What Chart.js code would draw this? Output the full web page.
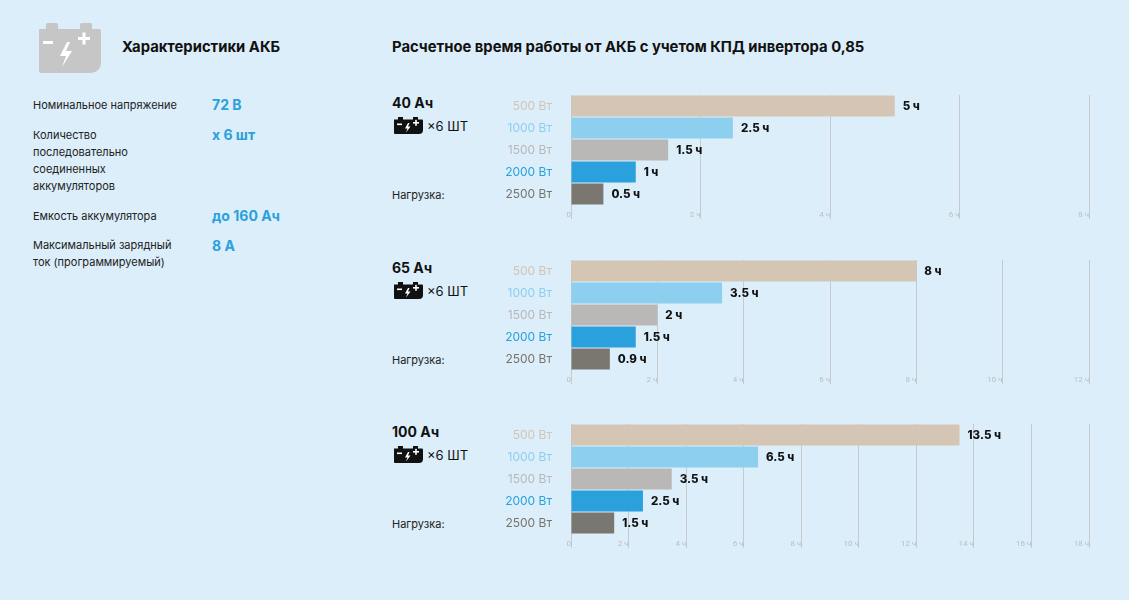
<!DOCTYPE html>
<html>
<head>
<meta charset="utf-8">
<script src="https://cdn.jsdelivr.net/npm/chart.js@4.4.0/dist/chart.umd.min.js"></script>
<style>
  html, body { margin:0; padding:0; }
  body { width:1129px; height:600px; background:#dbeefa; font-family: Inter, "Noto Sans", sans-serif; position:relative; overflow:hidden; color:#1a1a1a; }
  .abs { position:absolute; white-space:nowrap; }
  .h1 { font-weight:700; font-size:14.8px; color:#111; }
  .lbl { font-size:11px; color:#222; line-height:17px; }
  .val { font-weight:700; font-size:14px; color:#2aa0dc; }
  .cap { font-weight:700; font-size:14px; color:#111; }
  .cnt { font-size:13px; color:#111; }
  .chartbox { position:absolute; left:480px; width:620px; height:140px; }
</style>
</head>
<body>
<svg class="abs" style="left:37px;top:23px" width="66" height="50" viewBox="0 0 66 50">
  <rect x="9" y="0" width="12" height="8" rx="1.5" fill="#c6c6c6"/>
  <rect x="43" y="0" width="12" height="8" rx="1.5" fill="#c6c6c6"/>
  <path d="M2 6 H62 a2 2 0 0 1 2 2 V40 a10 10 0 0 1 -10 10 H4 a2 2 0 0 1 -2 -2 Z" fill="#c6c6c6"/>
  <rect x="6" y="18" width="10" height="3" fill="#fff"/>
  <rect x="41" y="14" width="12" height="3" fill="#fff"/>
  <rect x="45.5" y="9.5" width="3" height="12" fill="#fff"/>
  <path d="M30 19 L23 33 L29 33 L25 44 L35 28 L29 28 L33 19 Z" fill="#fff"/>
</svg>
<div class="abs h1" style="left:122px;top:38px">Характеристики АКБ</div>

<div class="abs lbl" style="left:33px;top:97px">Номинальное напряжение</div>
<div class="abs val" style="left:212px;top:96px">72 В</div>
<div class="abs lbl" style="left:33px;top:127px">Количество<br>последовательно<br>соединенных<br>аккумуляторов</div>
<div class="abs val" style="left:212px;top:126px">х 6 шт</div>
<div class="abs lbl" style="left:33px;top:208px">Емкость аккумулятора</div>
<div class="abs val" style="left:212px;top:207px">до 160 Ач</div>
<div class="abs lbl" style="left:33px;top:237px">Максимальный зарядный<br>ток (программируемый)</div>
<div class="abs val" style="left:212px;top:237px">8 А</div>

<div class="abs h1" style="left:392px;top:38px">Расчетное время работы от АКБ с учетом КПД инвертора 0,85</div>

<div id="groups"></div>

<div class="chartbox" style="top:85px"><canvas id="c1"></canvas></div>
<div class="chartbox" style="top:250px"><canvas id="c2"></canvas></div>
<div class="chartbox" style="top:414px"><canvas id="c3"></canvas></div>

<script>
// ---- data ----
const loads = ['500 Вт', '1000 Вт', '1500 Вт', '2000 Вт', '2500 Вт'];
const capacities = ['40 Ач', '65 Ач', '100 Ач'];
const hours40 = [5, 2.5, 1.5, 1, 0.5];
const hours65 = [8, 3.5, 2, 1.5, 0.9];
const hours100 = [13.5, 6.5, 3.5, 2.5, 1.5];
const ticks40 = ['0', '2 ч', '4 ч', '6 ч', '8 ч'];
const ticks65 = ['0', '2 ч', '4 ч', '6 ч', '8 ч', '10 ч', '12 ч'];
const ticks100 = ['0', '2 ч', '4 ч', '6 ч', '8 ч', '10 ч', '12 ч', '14 ч', '16 ч', '18 ч'];
const batteryCount = '×6 ШТ';
const loadCaption = 'Нагрузка:';

// ---- styles ----
const barColors = ['#d5c5b5', '#8dcfee', '#b9b8b6', '#2aa0dc', '#7a7670'];
const labelColors = ['#d3c4b5', '#8dcfee', '#b8b8b8', '#2aa0dc', '#77736e'];
const gridColor = '#c6cacd';

const tops = [85, 250, 414];
const groups = document.getElementById('groups');
const smallIcon = '<svg width="29" height="17" viewBox="0 0 29 17"><rect x="4" y="0" width="5" height="3" fill="#111"/><rect x="19" y="0" width="5" height="3" fill="#111"/><path d="M0 2.5 H28 a1 1 0 0 1 1 1 V13 a4 4 0 0 1 -4 4 H1 a1 1 0 0 1 -1 -1 Z" fill="#111"/><rect x="3" y="6.5" width="5" height="1.6" fill="#fff"/><rect x="19" y="5" width="6" height="1.6" fill="#fff"/><rect x="21.2" y="2.8" width="1.6" height="6" fill="#fff"/><path d="M14 6 L11 11.5 L13.5 11.5 L12 15.5 L16.5 9.5 L14 9.5 L15.5 6 Z" fill="#fff"/></svg>';
capacities.forEach((c, i) => {
  const t = tops[i];
  groups.insertAdjacentHTML('beforeend',
    `<div class="abs cap" style="left:392px;top:${t + 9}px">${c}</div>` +
    `<div class="abs" style="left:394px;top:${t + 32}px">${smallIcon}</div>` +
    `<div class="abs cnt" style="left:427px;top:${t + 33}px">${batteryCount}</div>` +
    `<div class="abs lbl" style="left:392px;top:${t + 102}px">${loadCaption}</div>`);
});

const valueLabels = {
  id: 'valueLabels',
  afterDatasetsDraw(chart) {
    const ctx = chart.ctx;
    const meta = chart.getDatasetMeta(0);
    const data = chart.data.datasets[0].data;
    ctx.save();
    ctx.font = '800 11.5px Inter, "Noto Sans", sans-serif';
    ctx.fillStyle = '#111';
    ctx.textAlign = 'left';
    ctx.textBaseline = 'middle';
    meta.data.forEach((el, i) => {
      ctx.fillText(data[i] + ' ч', el.x + 8, el.y + 1);
    });
    ctx.restore();
  }
};

function makeChart(id, values, tickLabels) {
  const max = (tickLabels.length - 1) * 2;
  new Chart(document.getElementById(id), {
    type: 'bar',
    data: {
      labels: loads,
      datasets: [{
        data: values,
        backgroundColor: barColors,
        borderWidth: 0,
        barPercentage: 0.96,
        categoryPercentage: 1
      }]
    },
    options: {
      indexAxis: 'y',
      responsive: true,
      maintainAspectRatio: false,
      animation: false,
      layout: { padding: { top: 10, right: 11, left: 0, bottom: 0 } },
      plugins: { legend: { display: false }, tooltip: { enabled: false } },
      scales: {
        x: {
          min: 0, max: max,
          afterFit: s => { s.height = 20; s.paddingLeft = 0; s.paddingRight = 0; },
          border: { display: false },
          grid: { color: gridColor, lineWidth: 1, drawTicks: true, tickLength: 14, tickColor: gridColor },
          ticks: {
            stepSize: 2, autoSkip: false, maxRotation: 0,
            align: 'end', padding: -9,
            color: '#b9bec3',
            font: { size: 8, family: 'Roboto, sans-serif' },
            callback: (v, i) => tickLabels[i]
          }
        },
        y: {
          afterFit: s => { s.width = 91; s.paddingTop = 0; s.paddingBottom = 0; },
          border: { display: false },
          grid: { display: false, drawTicks: false },
          ticks: {
            padding: 19,
            color: ctx => labelColors[ctx.index],
            font: { size: 12, family: 'Inter, "Noto Sans", sans-serif' }
          }
        }
      }
    },
    plugins: [valueLabels]
  });
}

makeChart('c1', hours40, ticks40);
makeChart('c2', hours65, ticks65);
makeChart('c3', hours100, ticks100);
</script>
</body>
</html>
